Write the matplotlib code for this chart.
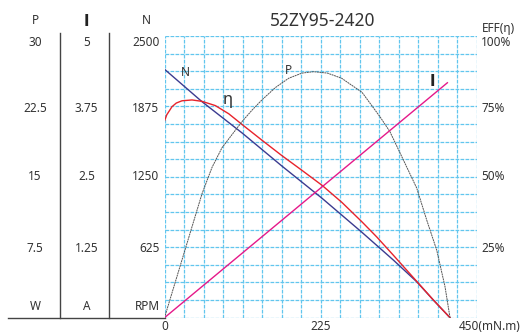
import numpy as np
import matplotlib
matplotlib.use("Agg")
import matplotlib.pyplot as plt
from matplotlib.lines import Line2D

plt.rcParams["font.family"] = ["Noto Sans", "DejaVu Sans"]

# --- values ---
title = "52ZY95-2420"
torque_max = 450  # mN.m, x range

speed_torque = [0, 54.1, 111.8, 169.5, 227.2, 284.9, 330, 363.8, 387.7, 411.8]
speed_rpm = [2205, 1917, 1640, 1345, 1060, 757, 512, 319, 157, 0]

eff_torque = [0, 3.2, 10.8, 17, 25.2, 39.7, 54.1, 73.3, 92.6, 111.8, 140.6, 169.5,
              198.3, 227.2, 256.0, 284.9, 306, 330, 363.8, 387.7, 411.8]
eff_pct = [69.8, 72.0, 74.9, 76.2, 77.0, 77.3, 76.8, 75.3, 72.4, 68.6, 63.0, 57.5,
           52.3, 47.0, 40.9, 34.0, 28.7, 22.2, 12.9, 6.3, 0]

power_torque = [0, 25.2, 39.7, 54.1, 68.5, 82.9, 97.4, 112, 126.2, 140.6, 159.8, 179.1,
                198.3, 215, 235, 255.5, 284.9, 310.8, 325.2, 344.5, 363.8, 378.2,
                392.6, 404.6, 411.8]
power_w = [0, 6.15, 9.69, 13.2, 16.0, 18.1, 19.5, 20.9, 22.1, 23.2, 24.5, 25.5,
           26.05, 26.2, 26.05, 25.5, 24.0, 21.4, 19.8, 16.8, 13.8, 10.4,
           7.2, 3.3, 0]

current_torque = [0, 408]
current_a = [0, 4.17]

p_ticks = ["30", "22.5", "15", "7.5", "W"]
i_ticks = ["5", "3.75", "2.5", "1.25", "A"]
n_ticks = ["2500", "1875", "1250", "625", "RPM"]
eff_ticks = ["100%", "75%", "50%", "25%"]
x_ticks = ["0", "225", "450(mN.m)"]

W, H = 525, 333
TXT = "#333333"
fig = plt.figure(figsize=(W / 100, H / 100), dpi=100)


def px(x, y):
    return x / W, 1 - y / H


# plot frame in pixels: left 164.5, right 476.5, top 36, bottom 317.7
ax = fig.add_axes([164.5 / W, 1 - 317.7 / H, 312 / W, (317.7 - 36) / H])
ax.set_xlim(0, torque_max)
ax.set_ylim(0, 2500)
ax.set_xticks(np.linspace(0, torque_max, 17))
ax.set_yticks(np.linspace(0, 2500, 17))
ax.tick_params(length=0, labelbottom=False, labelleft=False)
ax.grid(True, color="#62c6ee", lw=0.9, ls=(0, (3, 1)))
ax.set_axisbelow(True)
for s in ax.spines.values():
    s.set_visible(False)

ax_eff = ax.twinx()
ax_p = ax.twinx()
ax_i = ax.twinx()
for a, top in ((ax_eff, 100), (ax_p, 30), (ax_i, 5)):
    a.set_ylim(0, top)
    a.set_yticks([])
    for s in a.spines.values():
        s.set_visible(False)

ax_p.plot(power_torque, power_w, color="#555555", lw=0.7, ls=(0, (2, 0.6)),
          solid_joinstyle="round")
ax.plot(speed_torque, speed_rpm, color="#3b3b90", lw=1.0, solid_joinstyle="round")
ax_eff.plot(eff_torque, eff_pct, color="#e8232b", lw=1.0, solid_joinstyle="round")
ax_i.plot(current_torque, current_a, color="#e5198a", lw=1.0)

# left value columns
fig.add_artist(Line2D([8 / W, 164.5 / W], [1 - 317.7 / H] * 2, color="#444444", lw=1.0))
for xl in (60.3, 109.3):
    fig.add_artist(Line2D([xl / W] * 2, [1 - 33 / H, 1 - 317.7 / H], color="#444444", lw=1.0))

fs = 8.5
bold_i = dict(fontsize=10.5, color="#222222", fontweight="bold", family="DejaVu Sans")
fig.text(*px(35, 20.7), "P", ha="center", va="center", fontsize=fs, color=TXT)
fig.text(*px(86.7, 21), "I", ha="center", va="center", **bold_i)
fig.text(*px(146.7, 20.7), "N", ha="center", va="center", fontsize=fs, color=TXT)

rows_y = [43, 108, 176, 248, 306]
for yv, p_lab, i_lab, n_lab in zip(rows_y, p_ticks, i_ticks, n_ticks):
    fig.text(*px(35, yv), p_lab, ha="center", va="center", fontsize=fs, color=TXT)
    fig.text(*px(86.7, yv), i_lab, ha="center", va="center", fontsize=fs, color=TXT)
    fig.text(*px(159.5, yv), n_lab, ha="right", va="center", fontsize=fs, color=TXT)

# right efficiency labels
fig.text(*px(481.5, 28.3), "EFF(η)", ha="left", va="center", fontsize=fs, color=TXT)
for yv, lab in zip(rows_y[:4], eff_ticks):
    fig.text(*px(481, yv), lab, ha="left", va="center", fontsize=fs, color=TXT)

# x labels
fig.text(*px(165, 326), x_ticks[0], ha="center", va="center", fontsize=fs, color=TXT)
fig.text(*px(321, 326), x_ticks[1], ha="center", va="center", fontsize=fs, color=TXT)
fig.text(*px(458.5, 326), x_ticks[2], ha="left", va="center", fontsize=fs, color=TXT)

# title and curve names
fig.text(*px(322.5, 20.7), title, ha="center", va="center", fontsize=12.5, color=TXT)
fig.text(*px(185, 72.5), "N", ha="center", va="center", fontsize=fs, color=TXT)
fig.text(*px(228, 100), "η", ha="center", va="center", fontsize=12, color=TXT)
fig.text(*px(288, 70), "P", ha="center", va="center", fontsize=fs, color=TXT)
fig.text(*px(432.7, 81.5), "I", ha="center", va="center", **bold_i)

fig.savefig("out.png", dpi=100)
